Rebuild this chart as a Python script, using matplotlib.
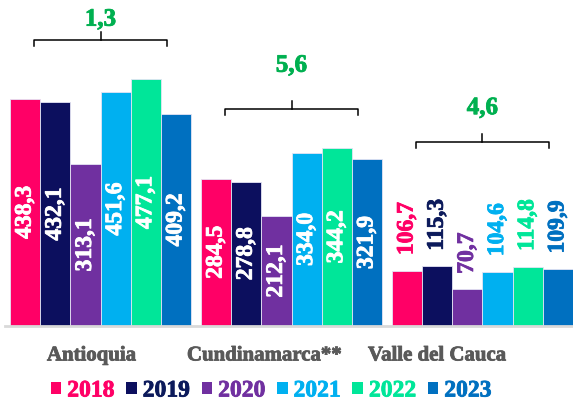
import numpy as np
import matplotlib.pyplot as plt
import matplotlib.patheffects as pe
from matplotlib.patches import Patch

plt.rcParams['font.family'] = ['Liberation Serif', 'DejaVu Serif']
plt.rcParams['font.weight'] = 'bold'

# data
departments = ['Antioquia', 'Cundinamarca**', 'Valle del Cauca']
years = ['2018', '2019', '2020', '2021', '2022', '2023']
antioquia = [438.3, 432.1, 313.1, 451.6, 477.1, 409.2]
cundinamarca = [284.5, 278.8, 212.1, 334.0, 344.2, 321.9]
valle = [106.7, 115.3, 70.7, 104.6, 114.8, 109.9]
growth = ['1,3', '5,6', '4,6']

# style
colors = ['#FF0066', '#0C0F5E', '#7030A0', '#00B0F0', '#00E699', '#0070C0']
label_colors = ['#FF0066', '#0C1A5B', '#7030A0', '#00B0F0', '#00E699', '#0070C0']
green = '#00B050'
gray = '#595959'
group_step = 6.33
inside_groups = [True, True, False]
growth_gap = [40, 84, 66]   # distance bracket -> growth label, y units


def heavy(color):
    return [pe.withStroke(linewidth=0.6, foreground=color)]


values = [antioquia, cundinamarca, valle]

fig = plt.figure(figsize=(5.73, 4.06), dpi=100)
ax = fig.add_axes([5 / 573, 79 / 406, 1 - 5 / 573, 1 - 79 / 406])

for g, vals in enumerate(values):
    x = g * group_step + np.arange(len(vals))
    ax.bar(x, vals, width=1.0, color=colors, edgecolor='#E4E4F4', linewidth=0.6)
    for k, (xi, v) in enumerate(zip(x, vals)):
        txt = f'{v:.1f}'.replace('.', ',')
        if inside_groups[g]:
            ax.text(xi, v / 2, txt, rotation=90, ha='center', va='center',
                    color='white', fontsize=17, path_effects=heavy('white'))
        else:
            ax.text(xi, v + 30, txt, rotation=90, ha='center', va='bottom',
                    color=label_colors[k], fontsize=17, path_effects=heavy(label_colors[k]))

    # bracket with growth value
    center = g * group_step + 2.5
    top = max(vals) + (75 if inside_groups[g] else 240)
    x0, x1 = center - 2.2, center + 2.2
    ax.plot([x0, x0, x1, x1], [top - 12, top, top, top - 12], color='black', lw=1.1)
    ax.plot([center, center], [top, top + 15], color='black', lw=1.1)
    ax.text(center, top + growth_gap[g], growth[g], ha='center', va='center',
            color=green, fontsize=18, path_effects=heavy(green))

ax.set_xlim(-0.666, 2 * group_step + 5.5)
ax.set_ylim(0, 631)
for s in ['top', 'right', 'left']:
    ax.spines[s].set_visible(False)
ax.spines['bottom'].set_color('#D9D9D9')
ax.spines['bottom'].set_linewidth(2)
ax.set_yticks([])

centers = np.arange(3) * group_step + 2.5
ax.set_xticks(0.905 * centers - 0.06)
ax.set_xticklabels(departments, fontsize=15, color=gray)
for t in ax.get_xticklabels():
    t.set_path_effects(heavy(gray))
ax.tick_params(axis='x', length=0, pad=14)

handles = [Patch(facecolor=c, edgecolor='none') for c in colors]
leg = fig.legend(handles, years, loc='center', bbox_to_anchor=(271 / 573, 1 - 392 / 406),
                 ncol=6, frameon=False, fontsize=17, handlelength=0.45, handleheight=0.45,
                 handletextpad=0.25, columnspacing=0.5, borderaxespad=0)
for t, c in zip(leg.get_texts(), label_colors):
    t.set_color(c)
    t.set_path_effects(heavy(c))

fig.savefig('out.png', dpi=100)
